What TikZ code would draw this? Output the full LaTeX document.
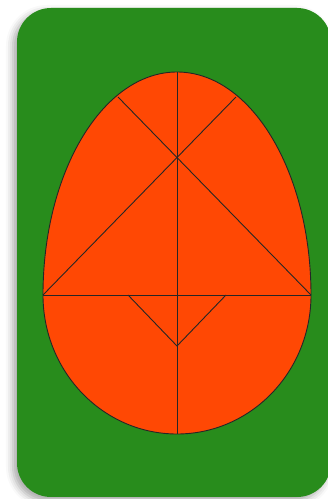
\documentclass[tikz,border=0pt]{standalone}
\usetikzlibrary{shadows.blur}
\definecolor{cardgreen}{RGB}{40,140,28}
\definecolor{eggred}{RGB}{255,72,4}
\tikzset{cut/.style={draw=black!85,line width=0.9pt}}
\begin{document}
\begin{tikzpicture}[x=1pt,y=1pt]
\useasboundingbox (0,0) rectangle (328,499);
% card (y flipped: py -> 499-py)
\fill[cardgreen, rounded corners=34pt, blur shadow={shadow xshift=-4pt, shadow yshift=-4pt, shadow blur radius=7pt, shadow opacity=35}]
  (17,2) rectangle (331,491);
% egg
\coordinate (L) at (43,204);
\coordinate (R) at (311,204);
\coordinate (T) at (177,427);
\coordinate (B) at (177,65);
\coordinate (UL) at (118,402);
\coordinate (UR) at (236,402);
\coordinate (VL) at (128,204);
\coordinate (VR) at (226,204);
\coordinate (VB) at (177,153);
\filldraw[fill=eggred, draw=black!85, line width=0.9pt]
  (L) arc[start angle=180, end angle=0, x radius=134pt, y radius=223pt]
      arc[start angle=0, end angle=-180, x radius=134pt, y radius=139pt] -- cycle;
\draw[cut] (T) -- (B);
\draw[cut] (L) -- (R);
\draw[cut] (UL) -- (R);
\draw[cut] (UR) -- (L);
\draw[cut] (VL) -- (VB) -- (VR);
\end{tikzpicture}
\end{document}
